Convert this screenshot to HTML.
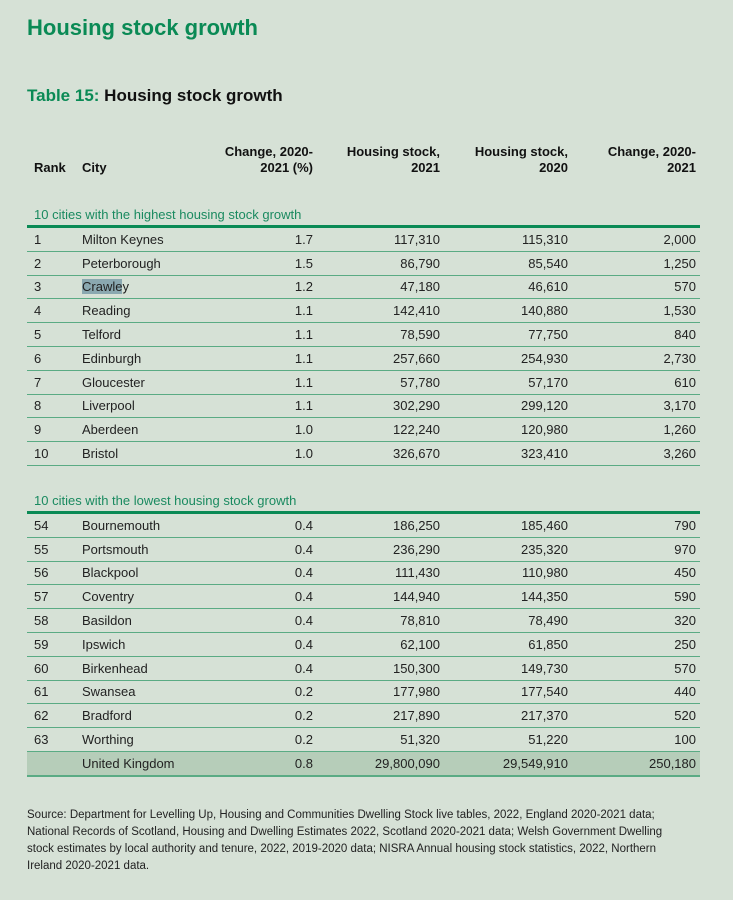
<!DOCTYPE html>
<html><head><meta charset="utf-8"><style>
body{margin:0;width:733px;height:900px;background:#d6e1d6;font-family:"Liberation Sans",sans-serif;color:#222;position:relative;overflow:hidden}
.t{position:absolute;left:27px;top:15px;font-size:22px;font-weight:bold;color:#0a8a55}
.st{position:absolute;left:27px;top:86px;font-size:17px;font-weight:bold;color:#111}
.st span{color:#0a8a55}
.h{position:absolute;font-size:13px;font-weight:bold;line-height:16px;color:#111}
.r{text-align:right}
.sec{position:absolute;left:34px;font-size:13px;color:#1a8a60}
table{position:absolute;left:27px;width:673px;border-collapse:collapse;font-size:13px;table-layout:fixed}
td{height:22.8px;padding:0;border-bottom:1.5px solid #5aab84;white-space:nowrap}
tr:first-child td{border-top:3px solid #0a8a55}
td.a{padding-left:7px}
td.c,td.d,td.e{text-align:right}
td.f{text-align:right;padding-right:4px}
tr.uk td{background:#b6cdb9;border-bottom:2px solid #5aab84}
.fn{position:absolute;left:27px;top:807px;font-size:11.5px;line-height:17px;color:#222;width:655px}
</style></head><body>
<div class="t">Housing stock growth</div>
<div class="st"><span>Table 15:</span> Housing stock growth</div>
<div class="h" style="left:34px;top:160px">Rank</div>
<div class="h" style="left:82px;top:160px">City</div>
<div class="h r" style="right:420px;top:144px">Change, 2020-<br>2021 (%)</div>
<div class="h r" style="right:293px;top:144px">Housing stock,<br>2021</div>
<div class="h r" style="right:165px;top:144px">Housing stock,<br>2020</div>
<div class="h r" style="right:37px;top:144px">Change, 2020-<br>2021</div>
<div class="sec" style="top:207px">10 cities with the highest housing stock growth</div>
<table style="top:225px">
<colgroup><col style="width:55px"><col style="width:150px"><col style="width:81px"><col style="width:127px"><col style="width:128px"><col style="width:132px"></colgroup>
<tr><td class="a">1</td><td class="b">Milton Keynes</td><td class="c">1.7</td><td class="d">117,310</td><td class="e">115,310</td><td class="f">2,000</td></tr>
<tr><td class="a">2</td><td class="b">Peterborough</td><td class="c">1.5</td><td class="d">86,790</td><td class="e">85,540</td><td class="f">1,250</td></tr>
<tr><td class="a">3</td><td class="b"><span style="background:#8aa8b0">Crawle</span>y</td><td class="c">1.2</td><td class="d">47,180</td><td class="e">46,610</td><td class="f">570</td></tr>
<tr><td class="a">4</td><td class="b">Reading</td><td class="c">1.1</td><td class="d">142,410</td><td class="e">140,880</td><td class="f">1,530</td></tr>
<tr><td class="a">5</td><td class="b">Telford</td><td class="c">1.1</td><td class="d">78,590</td><td class="e">77,750</td><td class="f">840</td></tr>
<tr><td class="a">6</td><td class="b">Edinburgh</td><td class="c">1.1</td><td class="d">257,660</td><td class="e">254,930</td><td class="f">2,730</td></tr>
<tr><td class="a">7</td><td class="b">Gloucester</td><td class="c">1.1</td><td class="d">57,780</td><td class="e">57,170</td><td class="f">610</td></tr>
<tr><td class="a">8</td><td class="b">Liverpool</td><td class="c">1.1</td><td class="d">302,290</td><td class="e">299,120</td><td class="f">3,170</td></tr>
<tr><td class="a">9</td><td class="b">Aberdeen</td><td class="c">1.0</td><td class="d">122,240</td><td class="e">120,980</td><td class="f">1,260</td></tr>
<tr><td class="a">10</td><td class="b">Bristol</td><td class="c">1.0</td><td class="d">326,670</td><td class="e">323,410</td><td class="f">3,260</td></tr>
</table>
<div class="sec" style="top:493px">10 cities with the lowest housing stock growth</div>
<table style="top:511px">
<colgroup><col style="width:55px"><col style="width:150px"><col style="width:81px"><col style="width:127px"><col style="width:128px"><col style="width:132px"></colgroup>
<tr><td class="a">54</td><td class="b">Bournemouth</td><td class="c">0.4</td><td class="d">186,250</td><td class="e">185,460</td><td class="f">790</td></tr>
<tr><td class="a">55</td><td class="b">Portsmouth</td><td class="c">0.4</td><td class="d">236,290</td><td class="e">235,320</td><td class="f">970</td></tr>
<tr><td class="a">56</td><td class="b">Blackpool</td><td class="c">0.4</td><td class="d">111,430</td><td class="e">110,980</td><td class="f">450</td></tr>
<tr><td class="a">57</td><td class="b">Coventry</td><td class="c">0.4</td><td class="d">144,940</td><td class="e">144,350</td><td class="f">590</td></tr>
<tr><td class="a">58</td><td class="b">Basildon</td><td class="c">0.4</td><td class="d">78,810</td><td class="e">78,490</td><td class="f">320</td></tr>
<tr><td class="a">59</td><td class="b">Ipswich</td><td class="c">0.4</td><td class="d">62,100</td><td class="e">61,850</td><td class="f">250</td></tr>
<tr><td class="a">60</td><td class="b">Birkenhead</td><td class="c">0.4</td><td class="d">150,300</td><td class="e">149,730</td><td class="f">570</td></tr>
<tr><td class="a">61</td><td class="b">Swansea</td><td class="c">0.2</td><td class="d">177,980</td><td class="e">177,540</td><td class="f">440</td></tr>
<tr><td class="a">62</td><td class="b">Bradford</td><td class="c">0.2</td><td class="d">217,890</td><td class="e">217,370</td><td class="f">520</td></tr>
<tr><td class="a">63</td><td class="b">Worthing</td><td class="c">0.2</td><td class="d">51,320</td><td class="e">51,220</td><td class="f">100</td></tr>
<tr class="uk"><td class="a"></td><td class="b">United Kingdom</td><td class="c">0.8</td><td class="d">29,800,090</td><td class="e">29,549,910</td><td class="f">250,180</td></tr>
</table>
<div class="fn">Source: Department for Levelling Up, Housing and Communities Dwelling Stock live tables, 2022, England 2020-2021 data; National Records of Scotland, Housing and Dwelling Estimates 2022, Scotland 2020-2021 data; Welsh Government Dwelling stock estimates by local authority and tenure, 2022, 2019-2020 data; NISRA Annual housing stock statistics, 2022, Northern Ireland 2020-2021 data.</div>
</body></html>
